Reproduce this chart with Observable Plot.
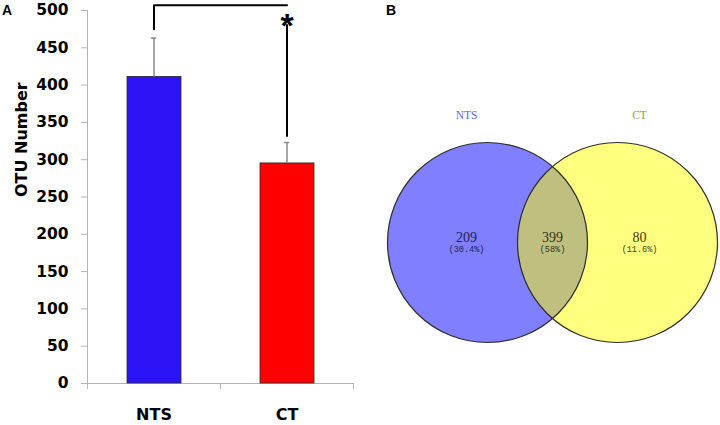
<!DOCTYPE html>
<html><head><meta charset="utf-8">
<script src="https://cdn.jsdelivr.net/npm/d3@7"></script>
<script src="https://cdn.jsdelivr.net/npm/@observablehq/plot@0.6"></script>
<style>
body{margin:0;background:#fff;}
#wrap{position:relative;width:720px;height:425px;overflow:hidden;}
.panel{position:absolute;top:3px;font:bold 14px "Liberation Sans",Arial,sans-serif;line-height:14px;color:#000;}
#bar,#venn{position:absolute;top:0;}
#venn{left:360px;}
#bar{left:0;}
</style></head><body>
<div id="wrap"><div id="bar"></div><div id="venn"></div>
<div class="panel" style="left:2px">A</div><div class="panel" style="left:386px">B</div></div>
<script>
// ---- Panel A data ----
const groups = ["NTS", "CT"];
const otuMean = [411, 295];
const otuErr = [52, 28];
const yTicks = [0, 50, 100, 150, 200, 250, 300, 350, 400, 450, 500];
const yTitle = "OTU Number";
const sigLabel = "*";
// significance bracket levels (OTU units)
const bracketTop = 507, bracketLeftEnd = 475, bracketRightTop = 481, bracketRightEnd = 330, starLevel = 490;

// ---- Panel B data ----
const vennSets = ["NTS", "CT"];
const vennCounts = [209, 399, 80];          // NTS only, shared, CT only
const vennPercents = ["(30.4%)", "(58%)", "(11.6%)"];

// ---- styles / layout ----
const barColors = ["#2c14f6", "#ff0000"];
const axisGray = "#b4b4b4";
const sans = "DejaVu Sans, sans-serif";
const serif = "Liberation Serif, serif";

const bars = groups.map((g, i) => ({g, i, v: otuMean[i], e: otuErr[i]}));

const barPlot = Plot.plot({
  width: 360, height: 425,
  marginLeft: 87, marginRight: 7, marginTop: 10, marginBottom: 42,
  style: {fontFamily: sans, background: "transparent", overflow: "visible", color: "#000"},
  x: {domain: [0, groups.length]},
  y: {domain: [0, 500]},
  color: {type: "identity"},
  marks: [
    Plot.ruleX([0], {y1: 0, y2: 500, stroke: axisGray}),
    Plot.ruleY([0], {stroke: axisGray}),
    Plot.axisY({ticks: yTicks, tickSize: 6, tickPadding: 13, stroke: axisGray, fill: "#000",
      fontSize: 15.5, fontWeight: "bold", label: null}),
    Plot.axisX({ticks: d3.range(0, groups.length + 1), tickSize: 6, tickFormat: () => "",
      stroke: axisGray, label: null}),
    Plot.rectY(bars, {x1: "i", x2: d => d.i + 1, y1: 0, y2: "v", insetLeft: 40, insetRight: 39,
      fill: d => barColors[d.i], stroke: "#2a2a2a", strokeWidth: 0.8}),
    Plot.ruleX(bars, {x: d => d.i + 0.5, y1: "v", y2: d => d.v + d.e, stroke: "#8a8a8a", strokeWidth: 1.5}),
    Plot.ruleY(bars, {y: d => d.v + d.e, x1: d => d.i + 0.48, x2: d => d.i + 0.52, stroke: "#8a8a8a", strokeWidth: 1.5}),
    Plot.line([{x: 0.5, y: bracketLeftEnd}, {x: 0.5, y: bracketTop}, {x: 1.5, y: bracketTop}],
      {x: "x", y: "y", stroke: "#000", strokeWidth: 2}),
    Plot.ruleX([1.5], {y1: bracketRightEnd, y2: bracketRightTop, stroke: "#000", strokeWidth: 2}),
    Plot.text([sigLabel], {x: 1.5, y: starLevel, fontSize: 34, fontWeight: "bold", fill: "#000",
      fontFamily: "Liberation Sans, Arial, sans-serif", dy: 8}),
    Plot.text(bars, {x: d => d.i + 0.5, y: 0, text: "g", dy: 31, fontSize: 16, fontWeight: "bold"}),
    Plot.text([yTitle], {frameAnchor: "left", rotate: -90, dx: -66, fontSize: 16, fontWeight: "bold"})
  ]
});
document.getElementById("bar").appendChild(barPlot);

// ---- Venn ----
const circles = vennSets.map((name, i) => ({
  name, cx: i === 0 ? -0.65 : 0.65, lx: i === 0 ? -0.86 : 0.87,
  fill: i === 0 ? "#0000ff" : "#ffff00",
  labelColor: i === 0 ? "#6464f0" : "#9a9a50"
}));
const regionX = [-0.86, 0, 0.87];
const regionColor = ["#20205a", "#33331c", "#3a3a1c"];
const regions = vennCounts.map((c, i) => ({c, p: vennPercents[i], x: regionX[i], col: regionColor[i]}));

const vennPlot = Plot.plot({
  width: 360, height: 425, margin: 0,
  style: {background: "transparent", overflow: "visible"},
  x: {domain: [-1.92, 1.68], axis: null},
  y: {domain: [-1.83, 2.42], axis: null},
  color: {type: "identity"},
  marks: [
    Plot.dot(circles, {x: "cx", y: 0, r: 100, fill: "fill", fillOpacity: 0.5, stroke: "none"}),
    Plot.dot(circles, {x: "cx", y: 0, r: 100, fill: "none", stroke: "#2e2e2e", strokeWidth: 1.2}),
    Plot.text(circles, {x: "lx", y: 1.27, text: "name", fill: "labelColor", fontFamily: serif, fontSize: 11.5}),
    Plot.text(regions, {x: "x", y: 0.045, text: d => String(d.c), fill: "col", fontFamily: serif, fontSize: 14}),
    Plot.text(regions, {x: "x", y: -0.065, text: "p", fill: "col", fontFamily: "Liberation Mono, monospace", fontSize: 8.5})
  ]
});
document.getElementById("venn").appendChild(vennPlot);
</script>
</body></html>
